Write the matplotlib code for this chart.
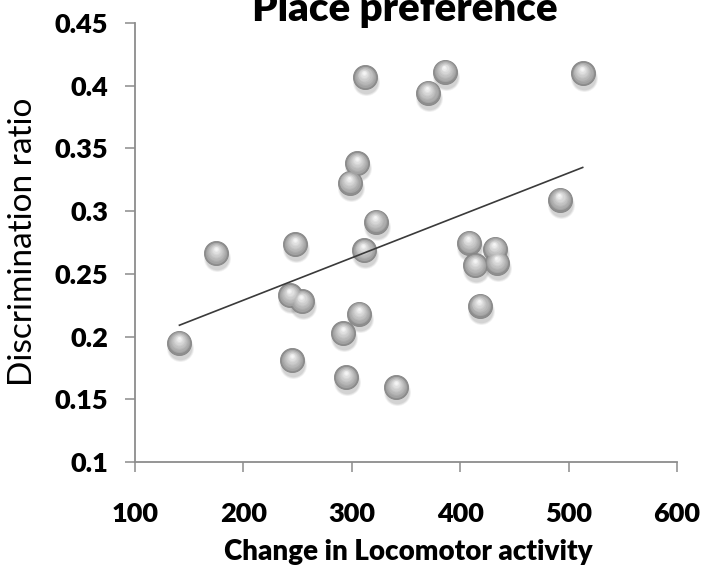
import numpy as np
import matplotlib
matplotlib.use("Agg")
import matplotlib.pyplot as plt
from matplotlib.transforms import ScaledTranslation

# ---- data ----
locomotor = [141, 175, 248, 243, 254, 245, 292, 295, 307, 298, 305, 311,
             322, 312, 341, 370, 386, 408, 432, 414, 434, 418, 492, 513]
discrimination = [0.195, 0.2665, 0.2736, 0.233, 0.228, 0.181, 0.2027, 0.1676,
                  0.218, 0.3227, 0.338, 0.269, 0.2916, 0.4067, 0.1596, 0.3945,
                  0.411, 0.275, 0.270, 0.257, 0.259, 0.2247, 0.309, 0.410]
x_ticks = [100, 200, 300, 400, 500, 600]
y_ticks = [0.1, 0.15, 0.2, 0.25, 0.3, 0.35, 0.4, 0.45]
y_tick_labels = ["0.1", "0.15", "0.2", "0.25", "0.3", "0.35", "0.4", "0.45"]
title = "Place preference"
x_label = "Change in Locomotor activity"
y_label = "Discrimination ratio"

W, H, DPI = 705, 565, 100
fig = plt.figure(figsize=(W / DPI, H / DPI), dpi=DPI)
ax = fig.add_axes([135 / W, 1 - 462 / H, (677 - 135) / W, (462 - 23) / H])

FONT = "Lato"
x = np.array(locomotor)
y = np.array(discrimination)

# spheres: shadow + layered gradient
def off(dx_px, dy_px):
    return ax.transData + ScaledTranslation(dx_px / DPI, dy_px / DPI, fig.dpi_scale_trans)

base_s = 300
for i, (sc, a) in enumerate([(1.25, 0.10), (1.1, 0.12), (0.95, 0.14)]):
    ax.scatter(x, y, s=base_s * sc, color="#7a7a7a", alpha=a, linewidths=0,
               transform=off(1, -5), zorder=2, clip_on=False)

ax.scatter(x, y, s=base_s, color="#8e8e8e", edgecolors="#858585", linewidths=0.6,
           zorder=3, clip_on=False)
n = 9
for k in range(1, n + 1):
    t = k / n
    frac = 1 - 0.88 * t
    c = 0.60 + 0.36 * t
    ax.scatter(x, y, s=base_s * frac ** 2 * 0.95, color=(c, c, c), linewidths=0,
               transform=off(-0.6 * t, 4.5 * t), zorder=3 + k * 0.01, clip_on=False)

# trend line
slope, intercept = np.polyfit(x, y, 1)
lx = np.array([x.min(), x.max()])
ax.plot(lx, slope * lx + intercept, color="#3a3a3a", lw=1.2, zorder=5)

ax.set_xlim(100, 600)
ax.set_ylim(0.1, 0.45)
ax.set_xticks(x_ticks)
ax.set_yticks(y_ticks)
ax.set_yticklabels(y_tick_labels)

for s in ["top", "right"]:
    ax.spines[s].set_visible(False)
for s in ["left", "bottom"]:
    ax.spines[s].set_color("#8c8c8c")
    ax.spines[s].set_linewidth(1.3)

ax.tick_params(axis="both", direction="out", length=7.5, width=1.1, color="#8c8c8c")
ax.tick_params(axis="x", pad=21)
ax.tick_params(axis="y", pad=12)
for lab in ax.get_xticklabels() + ax.get_yticklabels():
    lab.set_fontfamily(FONT)
    lab.set_fontweight("heavy")
    lab.set_fontsize(19.5)

fig.text(405 / W, 1 - 21 / H, title, ha="center", va="baseline",
         fontsize=29, fontweight="heavy", family=FONT)
fig.text(408 / W, 1 - 560 / H, x_label, ha="center", va="baseline",
         fontsize=20, fontweight="heavy", family=FONT)
fig.text(23 / W, 1 - 242 / H, y_label, ha="center", va="center", rotation=90,
         fontsize=24, family=FONT)

fig.savefig("out.png", dpi=DPI)
